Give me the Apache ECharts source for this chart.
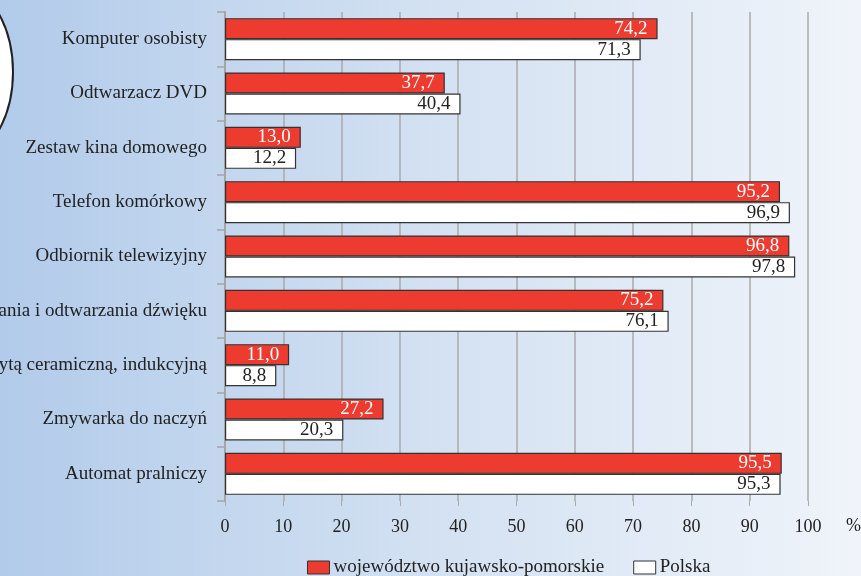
<!DOCTYPE html>
<html>
<head>
<meta charset="utf-8">
<script src="https://cdn.jsdelivr.net/npm/echarts@6/dist/echarts.min.js"></script>
<style>
  html, body { margin: 0; padding: 0; }
  #chart { width: 861px; height: 576px; }
</style>
</head>
<body>
<div id="chart"></div>
<script>
// dane
const categories = [
  "Komputer osobisty",
  "Odtwarzacz DVD",
  "Zestaw kina domowego",
  "Telefon komórkowy",
  "Odbiornik telewizyjny",
  "Zestaw do nagrywania i odtwarzania dźwięku",
  "Kuchenka z płytą ceramiczną, indukcyjną",
  "Zmywarka do naczyń",
  "Automat pralniczy",
];
const regionValues = [74.2, 37.7, 13.0, 95.2, 96.8, 75.2, 11.0, 27.2, 95.5];
const polandValues = [71.3, 40.4, 12.2, 96.9, 97.8, 76.1, 8.8, 20.3, 95.3];
const xTicks = [0, 10, 20, 30, 40, 50, 60, 70, 80, 90, 100];

const font = "Liberation Serif";
const fmt = (p) => p.value.toFixed(1).replace(".", ",");

const chart = echarts.init(document.getElementById("chart"));
chart.setOption({
  backgroundColor: new echarts.graphic.LinearGradient(0, 0, 1, 0, [
    { offset: 0, color: "#b2cbea" },
    { offset: 0.5, color: "#d3e1f2" },
    { offset: 1, color: "#f0f4fa" },
  ]),
  animation: false,
  textStyle: { fontFamily: font },
  grid: {
    left: 225,
    right: 53,
    top: 12,
    bottom: 75,
    containLabel: false,
    outerBoundsMode: "none",
  },
  legend: {
    top: 553,
    left: 302,
    icon: "rect",
    itemWidth: 22,
    itemHeight: 13,
    itemGap: 29,
    itemStyle: { borderColor: "#333", borderWidth: 1 },
    textStyle: { fontFamily: font, fontSize: 19, color: "#222", padding: [0, 0, 0, -1] },
    data: ["województwo kujawsko-pomorskie", "Polska"],
  },
  xAxis: {
    type: "value",
    min: 0,
    max: xTicks[xTicks.length - 1],
    interval: 10,
    axisLine: { show: false },
    axisTick: { show: true, length: 5, lineStyle: { color: "#aaa" } },
    axisLabel: {
      margin: 17,
      fontFamily: font,
      fontSize: 18,
      color: "#222",
    },
    splitLine: { show: true, lineStyle: { color: "#aaa", width: 1.5 } },
  },
  yAxis: {
    type: "category",
    inverse: true,
    data: categories,
    axisLine: { show: true, lineStyle: { color: "#a5a5a5", width: 2 } },
    axisTick: { show: true, length: 8, lineStyle: { color: "#a5a5a5", width: 1.5 } },
    axisLabel: {
      margin: 18,
      fontFamily: font,
      fontSize: 19,
      color: "#222",
    },
  },
  series: [
    {
      name: "województwo kujawsko-pomorskie",
      type: "bar",
      data: regionValues,
      barWidth: 21,
      barGap: "0%",
      itemStyle: { color: "#ee3b2f", borderColor: "#333", borderWidth: 1.2 },
      label: {
        show: true,
        position: "insideRight",
        distance: 10,
        formatter: fmt,
        color: "#fff",
        fontFamily: font,
        fontSize: 19,
      },
    },
    {
      name: "Polska",
      type: "bar",
      data: polandValues,
      barWidth: 21,
      barGap: "0%",
      itemStyle: { color: "#fff", borderColor: "#333", borderWidth: 1.2 },
      label: {
        show: true,
        position: "insideRight",
        distance: 10,
        formatter: fmt,
        color: "#222",
        fontFamily: font,
        fontSize: 19,
      },
    },
  ],
  graphic: [
    {
      type: "ellipse",
      shape: { cx: -60, cy: 72, rx: 73, ry: 98 },
      style: { fill: "#fff", stroke: "#222", lineWidth: 2 },
    },
    {
      type: "text",
      left: 846,
      top: 517,
      style: { text: "%", fontFamily: font, fontSize: 18, fill: "#222" },
    },
  ],
});
</script>
</body>
</html>
